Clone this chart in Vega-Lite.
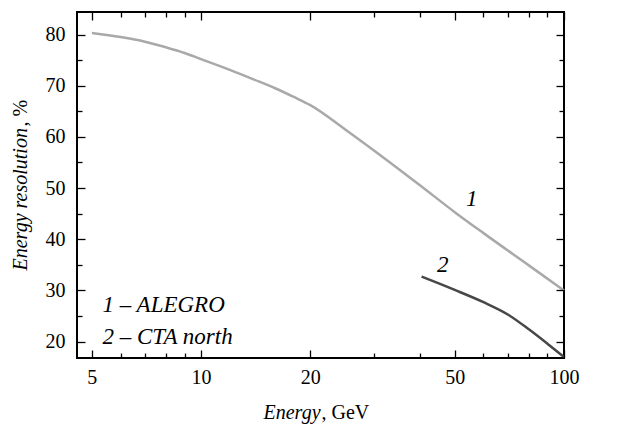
{
  "$schema": "https://vega.github.io/schema/vega-lite/v6.json",
  "padding": {"left": 8, "top": 10, "right": 51, "bottom": 7},
  "background": "white",
  "config": {
    "view": {"stroke": "black", "strokeWidth": 2},
    "font": "Liberation Serif",
    "axis": {
      "grid": false,
      "labelFont": "Liberation Serif",
      "labelFontSize": 20,
      "labelColor": "black",
      "titleFont": "Liberation Serif",
      "titleFontSize": 20,
      "titleFontWeight": "normal",
      "titleColor": "black"
    }
  },
  "datasets": {
    "curves": [
      {"energy": 5, "res": 80.3, "series": "1"},
      {"energy": 6, "res": 79.5, "series": "1"},
      {"energy": 7, "res": 78.6, "series": "1"},
      {"energy": 8, "res": 77.5, "series": "1"},
      {"energy": 9, "res": 76.4, "series": "1"},
      {"energy": 10, "res": 75.2, "series": "1"},
      {"energy": 12, "res": 73.1, "series": "1"},
      {"energy": 14, "res": 71.2, "series": "1"},
      {"energy": 16, "res": 69.5, "series": "1"},
      {"energy": 18, "res": 67.8, "series": "1"},
      {"energy": 20, "res": 66.2, "series": "1"},
      {"energy": 25, "res": 61.4, "series": "1"},
      {"energy": 30, "res": 57.3, "series": "1"},
      {"energy": 40, "res": 50.6, "series": "1"},
      {"energy": 50, "res": 45.3, "series": "1"},
      {"energy": 60, "res": 41.2, "series": "1"},
      {"energy": 80, "res": 34.9, "series": "1"},
      {"energy": 100, "res": 30.0, "series": "1"},
      {"energy": 40.5, "res": 32.7, "series": "2"},
      {"energy": 50, "res": 30.1, "series": "2"},
      {"energy": 60, "res": 27.7, "series": "2"},
      {"energy": 70, "res": 25.3, "series": "2"},
      {"energy": 80, "res": 22.4, "series": "2"},
      {"energy": 90, "res": 19.6, "series": "2"},
      {"energy": 100, "res": 17.0, "series": "2"}
    ],
    "curveLabels": [
      {"energy": 55.7, "res": 47.9, "label": "1"},
      {"energy": 46.3, "res": 35.0, "label": "2"}
    ],
    "legendLines": [
      {"energy": 5.35, "res": 27.2, "label": "1 – ALEGRO"},
      {"energy": 5.35, "res": 20.9, "label": "2 – CTA north"}
    ]
  },
  "vconcat": [
    {
      "width": 487,
      "height": 346,
      "layer": [
        {
          "data": {"name": "curves"},
          "mark": {"type": "line", "strokeWidth": 2.5, "interpolate": "monotone"},
          "encoding": {
            "x": {
              "field": "energy", "type": "quantitative",
              "scale": {"type": "log", "domain": [4.55, 100], "nice": false},
              "axis": {"orient": "bottom", "zindex": 1, "values": [5, 10, 20, 50, 100], "domain": false, "ticks": true, "tickColor": "black", "tickWidth": 1.3, "offset": -8, "tickSize": 8, "labelPadding": 9, "labelFlush": false, "labelOverlap": false, "format": "d",
                "title": "Energy", "titleFontStyle": "italic", "titleAlign": "left", "titleBaseline": "alphabetic", "titleX": 186, "titleY": 68}
            },
            "y": {
              "field": "res", "type": "quantitative",
              "scale": {"domain": [16.8, 84.4], "nice": false, "zero": false},
              "axis": {"orient": "left", "zindex": 1, "values": [20, 30, 40, 50, 60, 70, 80], "domain": false, "ticks": true, "tickColor": "black", "tickWidth": 1.3, "offset": -8, "tickSize": 8, "labelPadding": 12,
                "title": "Energy resolution", "titleFontStyle": "italic", "titleAngle": 270, "titleAlign": "left", "titleBaseline": "alphabetic", "titleX": -59, "titleY": 258}
            },
            "color": {
              "field": "series", "type": "nominal",
              "scale": {"domain": ["1", "2"], "range": ["#a9a9a9", "#474747"]},
              "legend": null
            }
          }
        },
        {
          "data": {"name": "curves"},
          "mark": {"type": "point", "opacity": 0},
          "encoding": {
            "x": {"field": "energy", "type": "quantitative",
              "axis": {"orient": "bottom", "zindex": 1, "values": [6, 7, 8, 9, 30, 40, 60, 70, 80, 90], "domain": false, "ticks": true, "tickColor": "black", "tickWidth": 1.3, "offset": -5, "tickSize": 5, "labels": false,
                "title": ", GeV", "titleFontStyle": "normal", "titleAlign": "left", "titleBaseline": "alphabetic", "titleX": 244, "titleY": 65}},
            "y": {"field": "res", "type": "quantitative",
              "axis": {"orient": "left", "zindex": 1, "values": [25, 35, 45, 55, 65, 75], "domain": false, "ticks": true, "tickColor": "black", "tickWidth": 1.3, "offset": -5, "tickSize": 5, "labels": false,
                "title": ", %", "titleFontStyle": "normal", "titleAngle": 270, "titleAlign": "left", "titleBaseline": "alphabetic", "titleX": -56, "titleY": 114}}
          }
        },
        {
          "data": {"name": "curves"},
          "mark": {"type": "point", "opacity": 0},
          "encoding": {
            "x": {"field": "energy", "type": "quantitative",
              "axis": {"orient": "top", "zindex": 1, "values": [5, 10, 20, 50, 100], "domain": false, "ticks": true, "tickColor": "black", "tickWidth": 1.3, "offset": -8, "tickSize": 8, "labels": false, "title": null}},
            "y": {"field": "res", "type": "quantitative",
              "axis": {"orient": "right", "zindex": 1, "values": [20, 30, 40, 50, 60, 70, 80], "domain": false, "ticks": true, "tickColor": "black", "tickWidth": 1.3, "offset": -8, "tickSize": 8, "labels": false, "title": null}}
          }
        },
        {
          "data": {"name": "curves"},
          "mark": {"type": "point", "opacity": 0},
          "encoding": {
            "x": {"field": "energy", "type": "quantitative",
              "axis": {"orient": "top", "zindex": 1, "values": [6, 7, 8, 9, 30, 40, 60, 70, 80, 90], "domain": false, "ticks": true, "tickColor": "black", "tickWidth": 1.3, "offset": -5, "tickSize": 5, "labels": false, "title": null}},
            "y": {"field": "res", "type": "quantitative",
              "axis": {"orient": "right", "zindex": 1, "values": [25, 35, 45, 55, 65, 75], "domain": false, "ticks": true, "tickColor": "black", "tickWidth": 1.3, "offset": -5, "tickSize": 5, "labels": false, "title": null}}
          }
        },
        {
          "data": {"name": "curveLabels"},
          "mark": {"type": "text", "font": "Liberation Serif", "fontSize": 23, "fontStyle": "italic", "baseline": "middle", "align": "center", "color": "black"},
          "encoding": {
            "x": {"field": "energy", "type": "quantitative", "axis": null},
            "y": {"field": "res", "type": "quantitative", "axis": null},
            "text": {"field": "label"}
          }
        },
        {
          "data": {"name": "legendLines"},
          "mark": {"type": "text", "font": "Liberation Serif", "fontSize": 23, "fontStyle": "italic", "baseline": "middle", "align": "left", "color": "black"},
          "encoding": {
            "x": {"field": "energy", "type": "quantitative", "axis": null},
            "y": {"field": "res", "type": "quantitative", "axis": null},
            "text": {"field": "label"}
          }
        }
      ],
      "resolve": {"axis": {"x": "independent", "y": "independent"}}
    }
  ]
}
